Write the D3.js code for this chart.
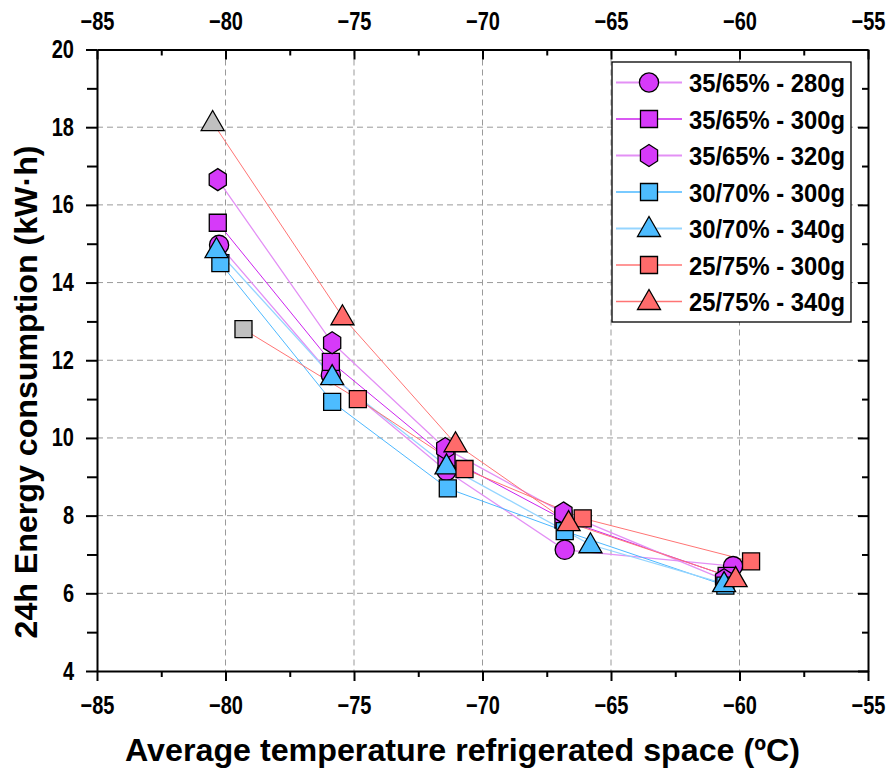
<!DOCTYPE html>
<html>
<head>
<meta charset="utf-8">
<script src="https://cdn.jsdelivr.net/npm/d3@7"></script>
<style>
  body { margin: 0; background: #fff; }
  svg text { font-family: "Liberation Sans", Arial, sans-serif; font-weight: bold; fill: #000; }
  .grid line { stroke: #9a9a9a; stroke-dasharray: 6,4; stroke-width: 1; }
</style>
</head>
<body>
<svg id="chart" width="891" height="778"></svg>
<script>
// ---- data ----
const seriesNames = [
  "35/65% - 280g", "35/65% - 300g", "35/65% - 320g",
  "30/70% - 300g", "30/70% - 340g",
  "25/75% - 300g", "25/75% - 340g"
];

const temp_35_65_280 = [-80.25, -75.9, -71.4, -66.8, -60.25];
const energy_35_65_280 = [14.97, 11.62, 9.15, 7.12, 6.7];

const temp_35_65_300 = [-80.3, -75.9, -71.4, -66.85, -60.5];
const energy_35_65_300 = [15.54, 11.96, 9.5, 7.9, 6.45];

const temp_35_65_320 = [-80.3, -75.85, -71.45, -66.85, -60.6];
const energy_35_65_320 = [16.65, 12.45, 9.73, 8.07, 6.35];

const temp_30_70_300 = [-80.2, -75.85, -71.35, -66.8, -60.55];
const energy_30_70_300 = [14.5, 10.93, 8.7, 7.6, 6.2];

const temp_30_70_340 = [-80.35, -75.85, -71.4, -65.8, -60.6];
const energy_30_70_340 = [14.85, 11.58, 9.28, 7.25, 6.25];

const temp_25_75_300 = [-79.3, -74.85, -70.7, -66.1, -59.55];
const energy_25_75_300 = [12.8, 11.0, 9.2, 7.93, 6.82];

const temp_25_75_340 = [-80.5, -75.45, -71.05, -66.65, -60.15];
const energy_25_75_340 = [18.12, 13.12, 9.85, 7.82, 6.38];

const xTicks = [-85, -80, -75, -70, -65, -60, -55];
const xMinorTicks = [-82.5, -77.5, -72.5, -67.5, -62.5, -57.5];
const yTicks = [4, 6, 8, 10, 12, 14, 16, 18, 20];
const yMinorTicks = [5, 7, 9, 11, 13, 15, 17, 19];

// ---- styles ----
const purple = "#d63af9", blue = "#4dbcff", red = "#ff6b6b", grey = "#c0c0c0";

const series = [
  { name: seriesNames[0], xs: temp_35_65_280, ys: energy_35_65_280, fill: purple, line: "#e390f5", lw: 1.3, shape: "circle" },
  { name: seriesNames[1], xs: temp_35_65_300, ys: energy_35_65_300, fill: purple, line: "#cc22ee", lw: 1, shape: "square" },
  { name: seriesNames[2], xs: temp_35_65_320, ys: energy_35_65_320, fill: purple, line: "#e390f5", lw: 1.3, shape: "hexagon" },
  { name: seriesNames[3], xs: temp_30_70_300, ys: energy_30_70_300, fill: blue, line: "#4db8ff", lw: 1, shape: "square" },
  { name: seriesNames[4], xs: temp_30_70_340, ys: energy_30_70_340, fill: blue, line: "#95d5ff", lw: 1.3, shape: "triangle" },
  { name: seriesNames[5], xs: temp_25_75_300, ys: energy_25_75_300, fill: red, line: "#ff7474", lw: 1, shape: "square", firstGrey: true },
  { name: seriesNames[6], xs: temp_25_75_340, ys: energy_25_75_340, fill: red, line: "#ff7474", lw: 1, shape: "triangle", firstGrey: true }
];

const svg = d3.select("#chart");
const plotLeft = 97, plotRight = 868, plotTop = 49.5, plotBottom = 671;

const x = d3.scaleLinear().domain([-85, -55]).range([plotLeft, plotRight]);
const y = d3.scaleLinear().domain([4, 20]).range([plotBottom, plotTop]);

// narrow-looking text: squeeze glyphs horizontally
function squish(sel, f) {
  sel.each(function () {
    const w = this.getComputedTextLength();
    d3.select(this).attr("textLength", w * f).attr("lengthAdjust", "spacingAndGlyphs");
  });
}

// grid
svg.append("g").attr("class", "grid")
  .selectAll("line").data(xTicks.slice(1, -1)).enter().append("line")
  .attr("x1", d => x(d)).attr("x2", d => x(d)).attr("y1", plotTop).attr("y2", plotBottom);
svg.append("g").attr("class", "grid")
  .selectAll("line").data(yTicks.slice(1, -1)).enter().append("line")
  .attr("y1", d => y(d)).attr("y2", d => y(d)).attr("x1", plotLeft).attr("x2", plotRight);

// axes
function styleAxis(g) {
  g.selectAll(".domain").attr("stroke", "#000").attr("stroke-width", 2);
  g.selectAll(".tick line").attr("stroke", "#000").attr("stroke-width", 2);
  g.selectAll("text").attr("font-size", 25).call(squish, 0.8);
}

svg.append("g").attr("transform", `translate(0,${plotBottom})`)
  .call(d3.axisBottom(x).tickValues(xTicks).tickSize(10).tickSizeOuter(0).tickPadding(15))
  .call(styleAxis);
svg.append("g").attr("transform", `translate(0,${plotBottom})`)
  .call(d3.axisBottom(x).tickValues(xMinorTicks).tickSize(6).tickFormat("").tickSizeOuter(0))
  .call(styleAxis).select(".domain").remove();

svg.append("g").attr("transform", `translate(0,${plotTop})`)
  .call(d3.axisTop(x).tickValues(xTicks).tickSize(-10).tickSizeOuter(0).tickPadding(20))
  .call(styleAxis);
svg.append("g").attr("transform", `translate(0,${plotTop})`)
  .call(d3.axisTop(x).tickValues(xMinorTicks).tickSize(-6).tickFormat("").tickSizeOuter(0))
  .call(styleAxis).select(".domain").remove();

svg.append("g").attr("transform", `translate(${plotLeft},0)`)
  .call(d3.axisLeft(y).tickValues(yTicks).tickSize(11).tickSizeOuter(0).tickPadding(12))
  .call(styleAxis);
svg.append("g").attr("transform", `translate(${plotLeft},0)`)
  .call(d3.axisLeft(y).tickValues(yMinorTicks).tickSize(10).tickFormat("").tickSizeOuter(0))
  .call(styleAxis).select(".domain").remove();

svg.append("g").attr("transform", `translate(${plotRight},0)`)
  .call(d3.axisRight(y).tickValues(yTicks).tickSize(-10).tickFormat("").tickSizeOuter(0))
  .call(styleAxis);
svg.append("g").attr("transform", `translate(${plotRight},0)`)
  .call(d3.axisRight(y).tickValues(yMinorTicks).tickSize(-6).tickFormat("").tickSizeOuter(0))
  .call(styleAxis).select(".domain").remove();

// axis titles
svg.append("text")
  .attr("x", 125).attr("y", 761)
  .attr("font-size", 32)
  .attr("textLength", 675).attr("lengthAdjust", "spacingAndGlyphs")
  .text("Average temperature refrigerated space (ºC)");
svg.append("text")
  .attr("transform", "translate(37,392) rotate(-90)")
  .attr("text-anchor", "middle").attr("font-size", 32)
  .attr("textLength", 493).attr("lengthAdjust", "spacingAndGlyphs")
  .text("24h Energy consumption (kW·h)");

// markers
function symbolPath(shape) {
  if (shape === "circle") return d3.symbol(d3.symbolCircle, 290)();
  if (shape === "square") return d3.symbol(d3.symbolSquare, 290)();
  if (shape === "triangle") {
    const w = 23, h = 20;
    return `M0,${-h * 0.6}L${w / 2},${h * 0.4}L${-w / 2},${h * 0.4}Z`;
  }
  // pointy-top hexagon
  const r = 11;
  return "M" + d3.range(6).map(i => {
    const a = i * Math.PI / 3;
    return [r * 0.9 * Math.sin(a), -r * Math.cos(a)].join(",");
  }).join("L") + "Z";
}

const lineGen = d3.line().x(d => x(d[0])).y(d => y(d[1]));

series.forEach(s => {
  const pts = s.xs.map((v, i) => [v, s.ys[i]]);
  svg.append("path").datum(pts)
    .attr("d", lineGen).attr("fill", "none")
    .attr("stroke", s.line).attr("stroke-width", s.lw);
});

series.forEach(s => {
  const pts = s.xs.map((v, i) => [v, s.ys[i]]);
  svg.append("g").selectAll("path").data(pts).enter().append("path")
    .attr("d", symbolPath(s.shape))
    .attr("transform", d => `translate(${x(d[0])},${y(d[1])})`)
    .attr("fill", (d, i) => (s.firstGrey && i === 0 ? grey : s.fill))
    .attr("stroke", "#000").attr("stroke-width", 1.3);
});

// legend
const lg = svg.append("g").attr("transform", "translate(612,62)");
lg.append("rect").attr("width", 239).attr("height", 260)
  .attr("fill", "#fff").attr("stroke", "#000").attr("stroke-width", 1.3);
const rows = lg.selectAll(".row").data(series).enter().append("g")
  .attr("transform", (d, i) => `translate(0,${20.5 + i * 36.5})`);
rows.append("line").attr("x1", 4).attr("x2", 70)
  .attr("stroke", d => d.line).attr("stroke-width", d => d.lw + 0.7);
rows.append("path").attr("d", d => symbolPath(d.shape))
  .attr("transform", "translate(37,0)")
  .attr("fill", d => d.fill).attr("stroke", "#000").attr("stroke-width", 1.3);
rows.append("text").attr("x", 77).attr("y", 9.5).attr("font-size", 26)
  .attr("textLength", 156).attr("lengthAdjust", "spacingAndGlyphs")
  .text(d => d.name);
</script>
</body>
</html>
